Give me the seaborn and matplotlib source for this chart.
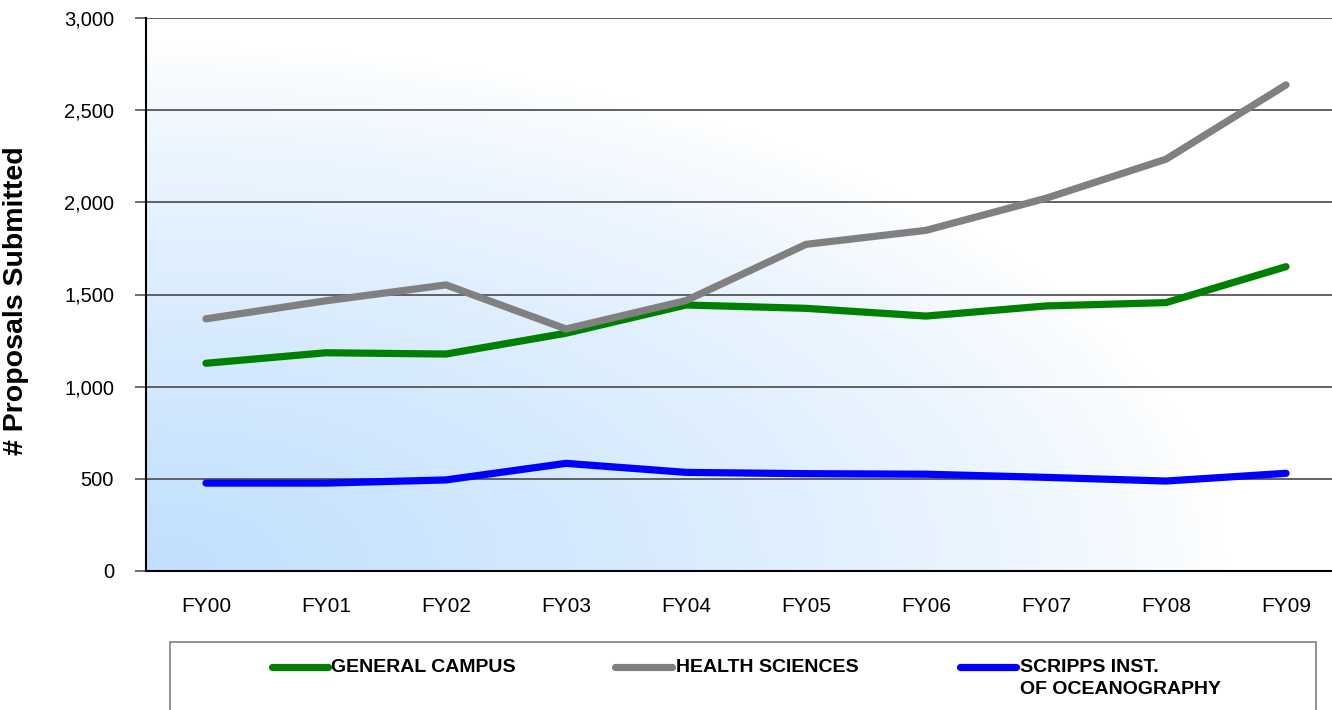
import numpy as np
import pandas as pd
import matplotlib
matplotlib.use("Agg")
import matplotlib.pyplot as plt
from matplotlib.lines import Line2D
from matplotlib.patches import Rectangle
from matplotlib.colors import to_rgb
from matplotlib.ticker import FuncFormatter, FixedLocator
import seaborn as sns

# ---- data ----
categories = ["FY00", "FY01", "FY02", "FY03", "FY04", "FY05", "FY06", "FY07", "FY08", "FY09"]
general_campus = [1127, 1184, 1177, 1290, 1443, 1425, 1383, 1438, 1456, 1651]
health_sciences = [1368, 1466, 1552, 1313, 1467, 1772, 1848, 2022, 2234, 2637]
scripps = [477, 477, 494, 584, 535, 528, 525, 508, 488, 530]
series_names = ["GENERAL CAMPUS", "HEALTH SCIENCES", "SCRIPPS INST.\nOF OCEANOGRAPHY"]
series_colors = ["#008000", "#808080", "#0000FF"]
y_ticks = [0, 500, 1000, 1500, 2000, 2500, 3000]
y_label = "# Proposals Submitted"

rows = []
for name, vals in zip(series_names, [general_campus, health_sciences, scripps]):
    for i, (c, v) in enumerate(zip(categories, vals)):
        rows.append({"series": name, "pos": i, "year": c, "value": v})
df = pd.DataFrame(rows)

sns.set_theme(style="white")
plt.rcParams["font.family"] = ["Liberation Sans", "DejaVu Sans"]

W, H = 1332, 710
fig = plt.figure(figsize=(W / 100, H / 100), dpi=100)
fig.patch.set_facecolor("white")
ax = fig.add_axes([146 / W, 139 / H, 1200 / W, 553 / H])

# gradient background (light blue at bottom-left fading to white)
nx, ny = 400, 300
u = np.linspace(0, 1, nx)[None, :]
v = np.linspace(0, 1, ny)[:, None]
t = np.clip(1 - np.sqrt((u / 0.9) ** 2 + (v / 0.95) ** 2), 0, 1) ** 0.75
blue = np.array(to_rgb("#C0DFFD"))
img = (1 - t)[..., None] * np.ones(3) + t[..., None] * blue
ax.imshow(img, extent=(-0.5, len(categories) - 0.5, 0, 3000), origin="lower",
          aspect="auto", zorder=0, interpolation="bilinear")

sns.lineplot(data=df, x="pos", y="value", hue="series", hue_order=series_names,
             palette=series_colors, linewidth=5.2, ax=ax, legend=False, zorder=3,
             sort=False)
for ln in ax.get_lines():
    ln.set_solid_capstyle("round")
    ln.set_solid_joinstyle("miter")

ax.set_xlim(-0.5, len(categories) - 0.5)
ax.set_ylim(0, 3000)
ax.set_yticks(y_ticks)
ax.yaxis.set_major_formatter(FuncFormatter(lambda x, p: f"{int(x):,}"))
ax.set_xticks(range(len(categories)))
ax.set_xticklabels(categories)
ax.xaxis.set_minor_locator(FixedLocator(np.arange(-0.5, len(categories), 1.0)))

for y in y_ticks[1:]:
    ax.axhline(y, color="#555555", lw=1.3, zorder=1)

ax.tick_params(axis="x", which="major", length=0, pad=19, labelsize=15, labelcolor="black")
ax.tick_params(axis="x", which="minor", length=8, width=1.2, color="#808080", direction="out")
ax.tick_params(axis="y", which="major", length=8, width=1.2, color="#555555",
               direction="out", pad=15, labelsize=14.5, labelcolor="black", left=True)

for s in ["top", "right"]:
    ax.spines[s].set_visible(False)
for s in ["left", "bottom"]:
    ax.spines[s].set_visible(True)
    ax.spines[s].set_color("black")
    ax.spines[s].set_linewidth(1.5)
    ax.spines[s].set_zorder(4)

ax.set_xlabel("")
ax.set_ylabel(y_label, fontsize=20.5, fontweight="bold", color="black")
ax.yaxis.set_label_coords(-0.0975, 0.488)

# legend box
fig.patches.append(Rectangle((170 / W, (H - 722) / H), 1146 / W, 80 / H,
                             transform=fig.transFigure, facecolor="white",
                             edgecolor="#808080", lw=1.2, zorder=1))
handle_x = [(272, 328), (615, 672), (960, 1016)]
text_x = [331, 676, 1020]
for (x0, x1), tx, name, col in zip(handle_x, text_x, series_names, series_colors):
    fig.add_artist(Line2D([x0 / W, x1 / W], [(H - 667) / H] * 2, transform=fig.transFigure,
                          color=col, lw=5.2, solid_capstyle="round", zorder=2))
    for k, line in enumerate(name.split("\n")):
        fig.text(tx / W, (H - 667 - 22.5 * k) / H, line, fontsize=14, fontweight="bold",
                 va="center", ha="left", color="black", zorder=3)

fig.savefig("out.png", dpi=100, facecolor="white")
